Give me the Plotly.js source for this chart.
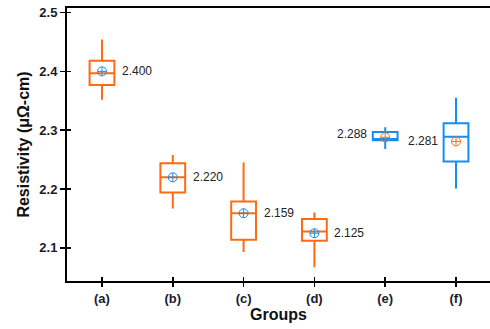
<!DOCTYPE html>
<html>
<head>
<meta charset="utf-8">
<script src="https://cdn.plot.ly/plotly-3.0.1.min.js"></script>
<style>html,body{margin:0;padding:0;background:#fff;}#chart{width:490px;height:329px;}</style>
</head>
<body>
<div id="chart"></div>
<script>
const categories = ['(a)', '(b)', '(c)', '(d)', '(e)', '(f)'];
const upperWhisker = [2.454, 2.258, 2.245, 2.160, 2.305, 2.355];
const q3Values     = [2.418, 2.244, 2.179, 2.149, 2.297, 2.312];
const medianValues = [2.397, 2.220, 2.159, 2.128, 2.285, 2.289];
const q1Values     = [2.377, 2.194, 2.114, 2.112, 2.283, 2.247];
const lowerWhisker = [2.352, 2.167, 2.093, 2.067, 2.268, 2.201];
const meanValues   = [2.400, 2.220, 2.159, 2.125, 2.288, 2.281];
const yTicks = [2.1, 2.2, 2.3, 2.4, 2.5];

const ORANGE = '#ff6a13';
const BLUE = '#168ef0';
const FONT = 'Liberation Sans, Arial, sans-serif';

const traces = [];
const annotations = [];
categories.forEach((c, i) => {
  const isBlue = i >= 4;
  const col = isBlue ? BLUE : ORANGE;
  const other = isBlue ? ORANGE : BLUE;
  traces.push({
    type: 'box', x: [c], q1: [q1Values[i]], median: [medianValues[i]], q3: [q3Values[i]],
    lowerfence: [lowerWhisker[i]], upperfence: [upperWhisker[i]],
    width: 0.35, whiskerwidth: 0, line: {color: col, width: 2},
    fillcolor: 'rgba(0,0,0,0)', hoverinfo: 'skip', showlegend: false, boxpoints: false
  });
  traces.push({
    type: 'scatter', mode: 'markers', x: [c], y: [meanValues[i]],
    marker: {symbol: 'circle-cross-open', size: 9, color: other, line: {width: 1, color: other}},
    showlegend: false, hoverinfo: 'skip'
  });
  annotations.push({
    x: c, y: meanValues[i], xref: 'x', yref: 'y', text: meanValues[i].toFixed(3),
    showarrow: false, xanchor: isBlue ? 'right' : 'left',
    xshift: isBlue ? -16 : 18, yshift: i === 4 ? 3 : 0,
    font: {family: FONT, size: 12, color: '#222'}
  });
});

const xr = [-0.494, 5.48];
const yr = [2.0438, 2.5077];
const layout = {
  width: 490, height: 329,
  margin: {l: 67, r: 0, t: 8, b: 48},
  paper_bgcolor: '#fff', plot_bgcolor: '#fff',
  boxmode: 'overlay', showlegend: false,
  xaxis: {
    type: 'category', range: xr, showgrid: false, zeroline: false,
    showline: true, linecolor: '#000', linewidth: 2, mirror: true,
    ticks: 'outside', ticklen: 4, tickwidth: 1.5, tickcolor: '#000',
    tickfont: {family: FONT, size: 13, color: '#1a1a2a', weight: 'bold'},
    title: {text: 'Groups', font: {family: FONT, size: 16, color: '#111', weight: 'bold'}, standoff: 4},
    automargin: false
  },
  yaxis: {
    range: yr, tickvals: yTicks, ticktext: yTicks.map(v => v.toFixed(1)),
    showgrid: false, zeroline: false,
    showline: true, linecolor: '#000', linewidth: 2,
    ticks: 'outside', ticklen: 5, tickwidth: 1.5, tickcolor: '#000',
    tickfont: {family: FONT, size: 13, color: '#1a1a2a', weight: 'bold'},
    title: {text: 'Resistivity (μΩ-cm)', font: {family: FONT, size: 16, color: '#111', weight: 'bold'}, standoff: 6},
    automargin: false
  },
  xaxis2: {
    overlaying: 'x', anchor: 'y', range: [-0.494, 5.48], tickvals: [0,1,2,3,4,5],
    showticklabels: false, ticks: 'inside', ticklen: 4, tickwidth: 1.5, tickcolor: '#000',
    showgrid: false, zeroline: false, showline: false
  },
  yaxis2: {
    overlaying: 'y', anchor: 'x', range: yr, tickvals: yTicks,
    showticklabels: false, ticks: 'inside', ticklen: 4, tickwidth: 1.5, tickcolor: '#000',
    showgrid: false, zeroline: false, showline: false
  },
  annotations: annotations
};
traces.push({type: 'scatter', x: [null], y: [null], xaxis: 'x2', yaxis: 'y2', showlegend: false, hoverinfo: 'skip'});
Plotly.newPlot('chart', traces, layout, {staticPlot: true, displayModeBar: false});
</script>
</body>
</html>
